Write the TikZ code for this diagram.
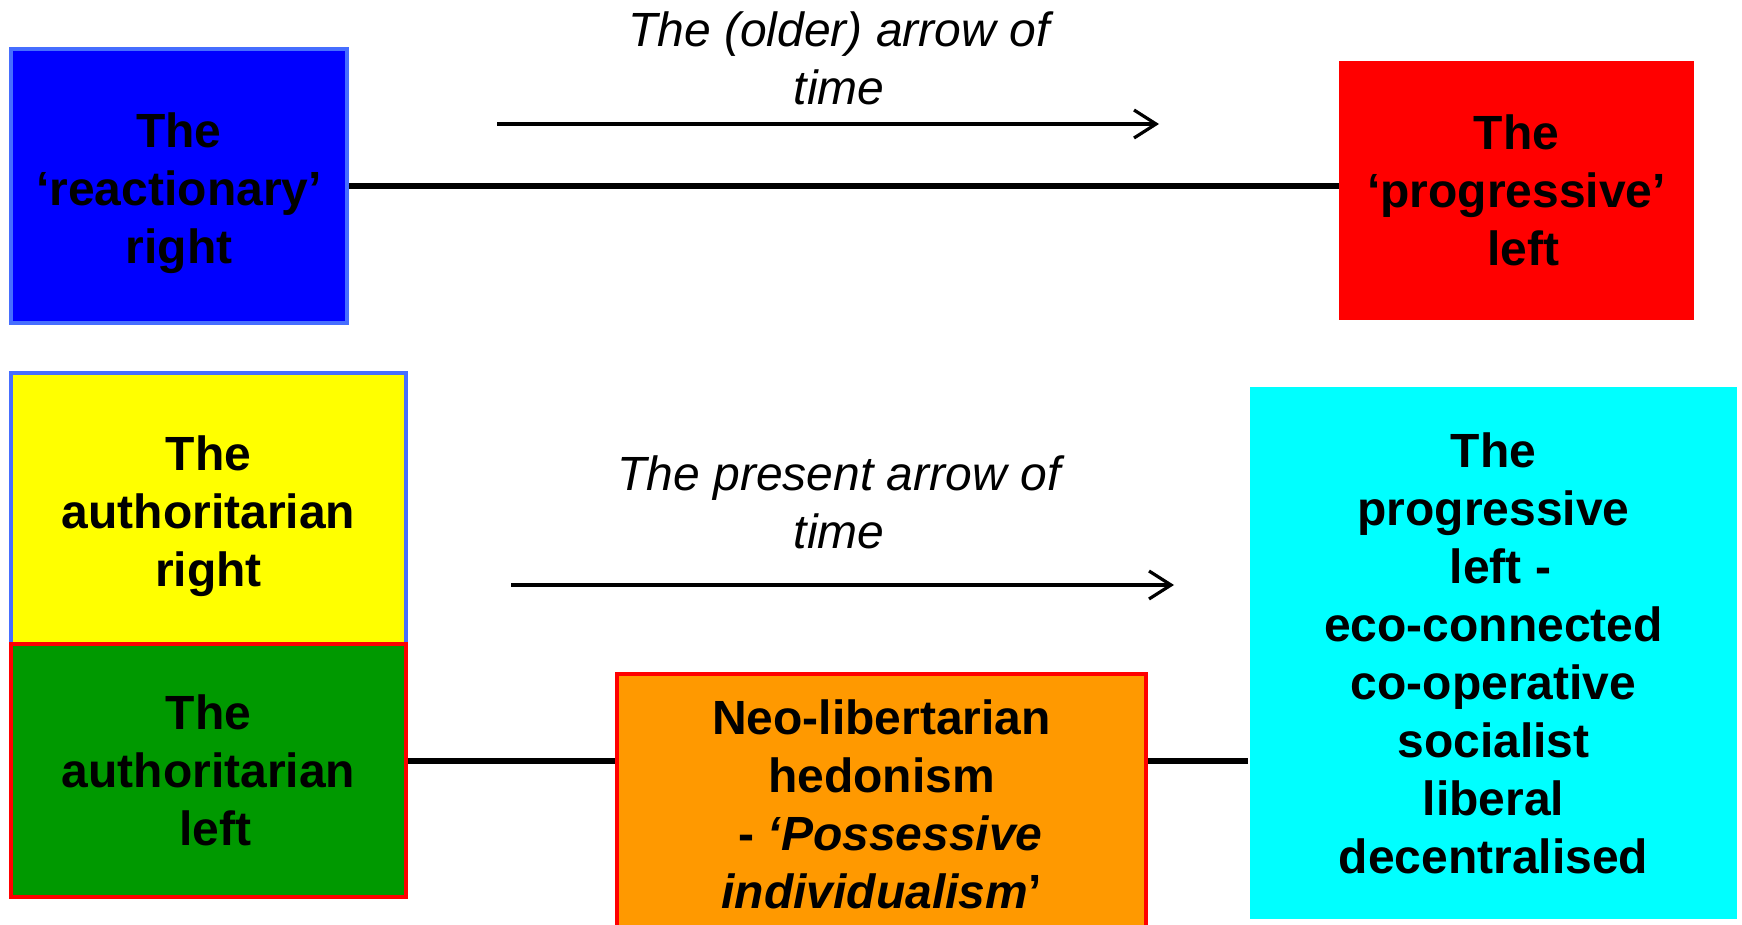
\documentclass[tikz,border=0pt]{standalone}
\usepackage{fontspec}
\setmainfont{Liberation Sans}
\usetikzlibrary{arrows.meta}
\definecolor{boxblue}{RGB}{0,0,255}
\definecolor{edgeblue}{RGB}{70,110,255}
\definecolor{boxyellow}{RGB}{255,255,0}
\definecolor{boxgreen}{RGB}{0,153,0}
\definecolor{boxred}{RGB}{255,0,0}
\definecolor{boxorange}{RGB}{255,153,0}
\definecolor{boxcyan}{RGB}{0,255,255}
\newcommand\myboxfont{\fontsize{24pt}{29pt}\selectfont\bfseries}
\newcommand\mylabelfont{\fontsize{24pt}{29pt}\selectfont\itshape}
\tikzset{
  pbox/.style={rectangle, inner sep=0pt, align=center, font=\myboxfont, line width=1.75pt},
  boxtext/.style={inner sep=0pt, align=center, font=\myboxfont},
  timelabel/.style={align=center, font=\mylabelfont, inner sep=0pt},
  timearrow/.style={line width=1.6pt, -{Straight Barb[length=11pt,width=14pt]}},
  connector/.style={line width=3.25pt}
}
\begin{document}
\begin{tikzpicture}[x=0.5pt,y=-0.5pt]
\useasboundingbox (0,0) rectangle (1742,925);
% top row
\node[pbox, fill=boxblue, draw=edgeblue, minimum width=168pt, minimum height=137pt] (reac) at (179,186) {};
\node[boxtext] (reactext) at (179,193) {The\\‘reactionary’\\right};
\node[pbox, fill=boxred, draw=boxred, minimum width=175.5pt, minimum height=127.5pt] (prog) at (1516.5,190.5) {The\\‘progressive’\\\hspace*{7pt}left};
\draw[connector] (reac.east) -- (reac.east -| prog.west);
\coordinate (a1s) at (497,124);
\coordinate (a1e) at (1159,124);
\draw[timearrow] (a1s) -- (a1e);
\node[timelabel] (lab1) at (839,58.5) {The (older) arrow of\\time};
% bottom row
\node[pbox, fill=boxyellow, draw=edgeblue, minimum width=197.5pt, minimum height=135.5pt] (authr) at (208.5,508.5) {};
\node[boxtext] (authrtext) at (208.5,516) {The\\authoritarian\\right};
\node[pbox, fill=boxgreen, draw=boxred, minimum width=197.5pt, minimum height=126.5pt] (authl) at (208.5,770.5) {The\\authoritarian\\\hspace*{7pt}left};
\node[pbox, fill=boxcyan, minimum width=243.5pt, minimum height=266pt] (eco) at (1493.5,653) {The\\progressive\\\hspace*{7pt}left -\\eco-connected\\co-operative\\socialist\\liberal\\decentralised};
\coordinate (liney) at (0,761);
\draw[connector] (authl.east |- liney) -- (eco.west |- liney);
\node[pbox, fill=boxorange, draw=boxred, minimum width=264.5pt, minimum height=130.5pt] (neo) at (881.5,804.5) {Neo-libertarian\\hedonism\\\hspace*{9pt}- \textit{‘Possessive}\\\textit{individualism}’};
\coordinate (a2s) at (511,585);
\coordinate (a2e) at (1174,585);
\draw[timearrow] (a2s) -- (a2e);
\node[timelabel] (lab2) at (839,502.5) {The present arrow of\\time};
\end{tikzpicture}
\end{document}
